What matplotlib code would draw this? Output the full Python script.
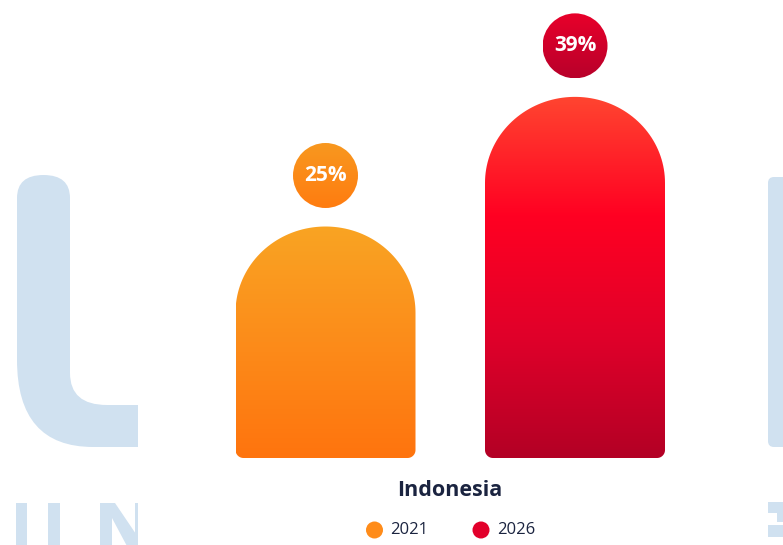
import numpy as np
import matplotlib
matplotlib.use("Agg")
import matplotlib.pyplot as plt
from matplotlib.path import Path
from matplotlib.patches import PathPatch, Ellipse, Rectangle, FancyBboxPatch, Polygon
from matplotlib.colors import LinearSegmentedColormap

plt.rcParams['font.family'] = ['Open Sans', 'DejaVu Sans']

# data
country = "Indonesia"
years = ["2021", "2026"]
shares = [25, 39]
bar_stops = [["#F9A423", "#FC8C1A", "#FF740E"],
             ["#FF4530", "#FF0022", "#E0002A", "#B30025"]]
bubble_stops = [["#F8981F", "#FF7C10"], ["#E8002B", "#B8002A"]]
legend_colors = ["#FF8C1A", "#E2002B"]

W, H = 783, 545
fig = plt.figure(figsize=(W / 100, H / 100), dpi=100)

# background watermark, in pixel coords
bg = fig.add_axes([0, 0, 1, 1])
bg.set_xlim(0, W)
bg.set_ylim(H, 0)
bg.axis("off")
wm = "#D0E1F0"
verts = [(17, 198), (17, 360), (17, 447), (93, 447), (138, 447), (138, 405),
         (107, 405), (70, 405), (70, 373), (70, 198), (70, 175), (43.5, 175),
         (17, 175), (17, 198)]
codes = [Path.MOVETO, Path.LINETO, Path.CURVE3, Path.CURVE3, Path.LINETO, Path.LINETO,
         Path.LINETO, Path.CURVE3, Path.CURVE3, Path.LINETO, Path.CURVE3, Path.CURVE3,
         Path.CURVE3, Path.CURVE3]
bg.add_patch(PathPatch(Path(verts, codes), fc=wm, ec="none"))
bg.add_patch(FancyBboxPatch((768, 177), 30, 270, boxstyle="round,pad=0,rounding_size=6",
                            fc=wm, ec="none"))
for x0, x1 in [(16, 27), (48, 60), (100, 112)]:
    bg.add_patch(Rectangle((x0, 503), x1 - x0, 45, fc=wm, ec="none"))
bg.add_patch(Polygon([(104, 503), (115, 503), (138, 537), (138, 548), (128, 548)],
                     fc=wm, ec="none"))
bg.add_patch(Rectangle((135, 503), 3, 45, fc=wm, ec="none"))
bg.add_patch(Rectangle((768, 502), 15, 11, fc=wm, ec="none"))
bg.add_patch(Rectangle((777, 513), 6, 9, fc=wm, ec="none"))
bg.add_patch(Rectangle((768, 525), 15, 12, fc=wm, ec="none"))
# white chart panel that covers the watermark
bg.add_patch(Rectangle((138, 0), 630, H, fc="white", ec="none"))

# chart axes: value 0 at pixel 458, 9.26 px per percent
sy = 9.26
sx = 249.5
base_px = 458
x_first = 325.5
ax = fig.add_axes([0, (H - base_px) / H, 1, base_px / H])
ax.patch.set_alpha(0)
ax.set_xlim(-x_first / sx, (W - x_first) / sx)
ax.set_ylim(0, base_px / sy)
ax.axis("off")

bar_w = 180 / sx
arc_h = 86 / sy
rc_x, rc_y = 8 / sx, 8 / sy
bub_r = 32.5
bub_gap = 51 / sy

for i, (val, stops, bstops) in enumerate(zip(shares, bar_stops, bubble_stops)):
    x0, x1 = i - bar_w / 2, i + bar_w / 2
    t = np.linspace(0, np.pi / 2, 20)
    pts = [(x0, val - arc_h), (x0, rc_y)]
    pts += list(zip(x0 + rc_x - rc_x * np.cos(t), rc_y - rc_y * np.sin(t)))
    pts += list(zip(x1 - rc_x + rc_x * np.sin(t), rc_y - rc_y * np.cos(t)))
    pts += [(x1, val - arc_h)]
    a = np.linspace(0, np.pi, 80)
    pts += list(zip(i + bar_w / 2 * np.cos(a), val - arc_h + arc_h * np.sin(a)))
    patch = PathPatch(Path(pts + [pts[0]]), fc="none", ec="none")
    ax.add_patch(patch)
    cmap = LinearSegmentedColormap.from_list("b%d" % i, stops)
    grad = np.linspace(0, 1, 256).reshape(-1, 1)
    im = ax.imshow(grad, cmap=cmap, aspect="auto", extent=[x0, x1, 0, val],
                   origin="upper", interpolation="bicubic", zorder=2)
    im.set_clip_path(patch)

    # value bubble
    cy = val + bub_gap
    circ = Ellipse((i, cy), 2 * bub_r / sx, 2 * bub_r / sy, fc="none", ec="none")
    ax.add_patch(circ)
    bcmap = LinearSegmentedColormap.from_list("c%d" % i, bstops)
    im2 = ax.imshow(grad, cmap=bcmap, aspect="auto",
                    extent=[i - bub_r / sx, i + bub_r / sx, cy - bub_r / sy, cy + bub_r / sy],
                    origin="upper", interpolation="bicubic", zorder=2)
    im2.set_clip_path(circ)
    ax.text(i, cy, "%d%%" % val, color="white", fontsize=15, fontweight="bold",
            ha="center", va="center", zorder=3)

# category label and legend, in pixel coords
bg.text(450, 491, country, fontsize=15.5, fontweight="bold", color="#1B2440",
        ha="center", va="center")
leg_x = [374.5, 481]
for lx, yr, c in zip(leg_x, years, legend_colors):
    bg.scatter([lx], [530], s=150, color=c, edgecolors="none")
    bg.text(lx + 16, 530, yr, fontsize=12, color="#1B2440", ha="left", va="center")

fig.savefig("out.png", dpi=100)
